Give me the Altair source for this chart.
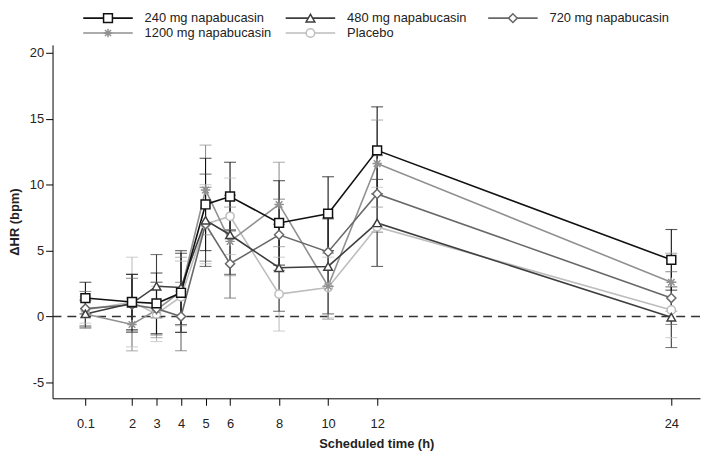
import altair as alt
import pandas as pd

# ---------------- data ----------------
times = [0.1, 2, 3, 4, 5, 6, 8, 10, 12, 24]
x_tick_values = [0.1, 2, 3, 4, 5, 6, 8, 10, 12, 24]
y_tick_values = [-5, 0, 5, 10, 15, 20]

series_names = ["240 mg napabucasin", "480 mg napabucasin", "720 mg napabucasin",
                "1200 mg napabucasin", "Placebo"]
legend_cols = [0, 1, 2, 0, 1]
legend_rows = [0, 0, 0, 1, 1]

hr_240 = [1.4, 1.1, 1.0, 1.8, 8.5, 9.1, 7.1, 7.8, 12.6, 4.3]
err_240 = [1.2, 2.1, 2.3, 3.0, 3.5, 2.6, 3.2, 2.8, 3.3, 2.3]
hr_480 = [0.2, 1.0, 2.3, 2.2, 7.3, 6.2, 3.7, 3.8, 7.1, -0.05]
err_480 = [1.0, 2.2, 2.4, 2.8, 3.5, 3.0, 3.3, 3.6, 3.3, 2.3]
hr_720 = [0.6, 0.9, 0.6, 0.0, 7.0, 4.0, 6.2, 4.9, 9.3, 1.4]
err_720 = [1.3, 2.0, 2.0, 2.6, 2.8, 2.6, 2.7, 2.6, 2.9, 2.0]
hr_1200 = [0.2, -0.6, 0.5, 1.9, 9.6, 5.7, 8.5, 2.3, 11.6, 2.6]
err_1200 = [1.1, 2.0, 2.1, 2.6, 3.4, 2.6, 3.2, 2.5, 3.3, 2.2]
hr_placebo = [0.5, 1.1, 0.2, 1.5, 7.0, 7.6, 1.7, 2.2, 6.8, 0.5]
err_placebo = [1.0, 3.4, 2.1, 2.7, 3.0, 2.9, 2.8, 2.3, 3.0, 2.1]

series_values = {
    "240 mg napabucasin": (hr_240, err_240),
    "480 mg napabucasin": (hr_480, err_480),
    "720 mg napabucasin": (hr_720, err_720),
    "1200 mg napabucasin": (hr_1200, err_1200),
    "Placebo": (hr_placebo, err_placebo),
}

# ---------------- styles ----------------
colors = ["#111111", "#3e3e3e", "#686868", "#909090", "#bdbdbd"]
asterisk = "M0,-1V1M-1,0H1M-0.7,-0.7L0.7,0.7M-0.7,0.7L0.7,-0.7"
marker_shapes = ["square", "triangle-up", "diamond", asterisk, "circle"]
marker_sizes = [80, 75, 85, 90, 70]

FONT = "Liberation Sans"

draw_order = ["Placebo", "1200 mg napabucasin", "720 mg napabucasin",
              "480 mg napabucasin", "240 mg napabucasin"]
rows = []
for name in draw_order:
    vals, errs = series_values[name]
    for t, v, e in zip(times, vals, errs):
        rows.append({"series": name, "time": t, "hr": v, "lo": v - e, "hi": v + e})
df = pd.DataFrame(rows)
zero_df = pd.DataFrame({"zero": [0]})
legend_df = pd.DataFrame({"series": series_names, "col": legend_cols, "row": legend_rows})

xs = alt.Scale(domain=[-1.24, 25.17], nice=False, zero=False)
ys = alt.Scale(domain=[-6.2, 20.6], nice=False, zero=False)

xaxis = alt.Axis(values=x_tick_values, format="~g", grid=False, tickSize=7,
                 labelPadding=12, titlePadding=8, domainColor="#000", tickColor="#000",
                 labelFont=FONT, labelFontSize=13, labelColor="#222",
                 titleFont=FONT, titleFontSize=13, titleFontWeight="bold", titleColor="#222",
                 labelFlush=False)
yaxis = alt.Axis(values=y_tick_values, grid=False, tickSize=7, labelPadding=2,
                 titlePadding=8, domainColor="#000", tickColor="#000",
                 labelFont=FONT, labelFontSize=13, labelColor="#222",
                 labelExpr="datum.value < 0 ? '-' + abs(datum.value) : '' + datum.value",
                 titleFont=FONT, titleFontSize=13, titleFontWeight="bold", titleColor="#222")

X = alt.X("time:Q", scale=xs, axis=xaxis, title="Scheduled time (h)")
color_scale = alt.Scale(domain=series_names, range=colors)
color_enc = alt.Color("series:N", scale=color_scale, legend=None)

zero_rule = alt.Chart(zero_df).mark_rule(color="#333333", strokeDash=[9, 6], strokeWidth=1.6).encode(
    y=alt.Y("zero:Q", scale=ys, axis=yaxis, title="ΔHR (bpm)")
)
err_rule = alt.Chart(df).mark_rule(strokeWidth=1.1).encode(
    x=X, y=alt.Y("lo:Q", scale=ys, axis=yaxis, title="ΔHR (bpm)"), y2="hi:Q", color=color_enc,
)
cap_lo = alt.Chart(df).mark_tick(orient="horizontal", size=12, thickness=1.1).encode(
    x=X, y=alt.Y("lo:Q", scale=ys, axis=yaxis, title="ΔHR (bpm)"), color=color_enc
)
cap_hi = alt.Chart(df).mark_tick(orient="horizontal", size=12, thickness=1.1).encode(
    x=X, y=alt.Y("hi:Q", scale=ys, axis=yaxis, title="ΔHR (bpm)"), color=color_enc
)
lines = alt.Chart(df).mark_line(strokeWidth=1.6).encode(
    x=X, y=alt.Y("hr:Q", scale=ys, axis=yaxis, title="ΔHR (bpm)"), color=color_enc,
    order="time:Q"
)
point_layers = []
for name in draw_order:
    i = series_names.index(name)
    point_layers.append(
        alt.Chart(df).transform_filter(alt.datum.series == name).mark_point(
            shape=marker_shapes[i], size=marker_sizes[i], filled=True, fill="white",
            stroke=colors[i], strokeWidth=1.5, opacity=1
        ).encode(x=X, y=alt.Y("hr:Q", scale=ys, axis=yaxis, title="ΔHR (bpm)"))
    )

plot = alt.layer(zero_rule, err_rule, cap_lo, cap_hi, lines, *point_layers).properties(
    width=654, height=357
)

# ---------------- legend (drawn from legend_df through its own scales) ----------------
lx = alt.X("col:Q", scale=alt.Scale(domain=[0, 2], range=[31, 440], nice=False, zero=False), axis=None)
ly = alt.Y("row:Q", scale=alt.Scale(domain=[0, 1], range=[6, 21], nice=False, zero=False), axis=None)
lstroke = alt.Stroke("series:N", scale=color_scale, legend=None)

leg_line = alt.Chart(legend_df).mark_rule(strokeWidth=1.6, x2Offset=50).encode(
    x=lx, x2="col:Q", y=ly, stroke=lstroke
)
leg_point = alt.Chart(legend_df).mark_point(
    xOffset=25, filled=True, fill="white", strokeWidth=1.5, opacity=1
).encode(
    x=lx, y=ly, stroke=lstroke,
    shape=alt.Shape("series:N", scale=alt.Scale(domain=series_names, range=marker_shapes), legend=None),
    size=alt.Size("series:N", scale=alt.Scale(domain=series_names, range=marker_sizes), legend=None),
)
leg_text = alt.Chart(legend_df).mark_text(
    align="left", baseline="middle", dx=62, font=FONT, fontSize=13, color="#222"
).encode(x=lx, y=ly, text="series:N")

legend_chart = alt.layer(leg_line, leg_point, leg_text).properties(width=640, height=26)

chart = alt.vconcat(legend_chart, plot, spacing=4).resolve_scale(
    x="independent", y="independent", stroke="independent", shape="independent", size="independent"
).properties(padding=0, background="white").configure_view(stroke=None, strokeWidth=0)

chart.save("out.html", embed_options={"renderer": "svg", "actions": False})
